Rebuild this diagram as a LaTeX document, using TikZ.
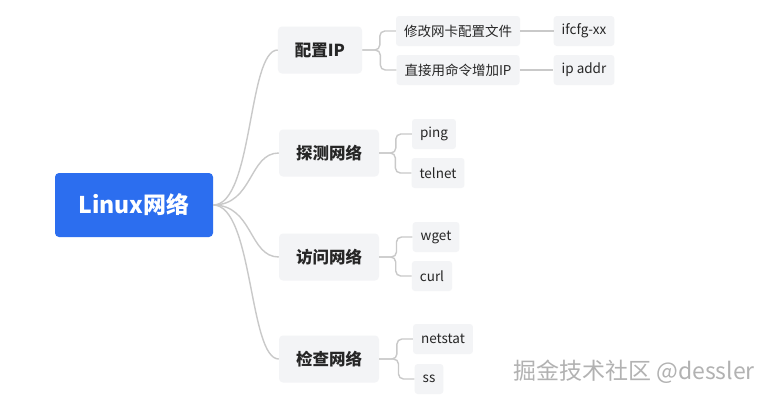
\documentclass[tikz,border=0pt]{standalone}
\usepackage{fontspec}
\setmainfont{Noto Sans CJK SC}
\definecolor{rootblue}{HTML}{2C6EEF}
\definecolor{boxgray}{HTML}{F3F4F6}
\definecolor{linkgray}{HTML}{C9C9C9}
\definecolor{textdark}{HTML}{262626}
\tikzset{
  rootbox/.style={fill=rootblue,text=white,rounded corners=4pt,minimum width=158pt,minimum height=64pt,font=\fontsize{23}{26}\selectfont\bfseries},
  topicbox/.style={fill=boxgray,text=textdark,rounded corners=4pt,inner xsep=17pt,minimum height=47pt,font=\fontsize{16.5}{19}\selectfont\bfseries},
  leafbox/.style={fill=boxgray,text=textdark,rounded corners=3pt,inner xsep=8pt,minimum height=30pt,font=\fontsize{13.5}{16}\selectfont},
  link/.style={draw=linkgray,line width=1.4pt,rounded corners=5pt},
}
\begin{document}
\begin{tikzpicture}[x=1pt,y=-1pt]
  \useasboundingbox[fill=white] (0,0) rectangle (784,400);
  \node[rootbox] (root) at (134,205) {Linux网络};
  \node[topicbox] (cfg) at (320,50) {配置IP};
  \node[topicbox] (probe) at (329,153) {探测网络};
  \node[topicbox] (visit) at (329,257) {访问网络};
  \node[topicbox] (check) at (329,359) {检查网络};
  \node[leafbox] (cfga) at (458,31) {修改网卡配置文件};
  \node[leafbox] (cfgb) at (458,70) {直接用命令增加IP};
  \node[leafbox] (ifcfg) at (584,31) {ifcfg-xx};
  \node[leafbox] (ipaddr) at (584,70) {ip addr};
  \node[leafbox] (ping) at (434,134) {ping};
  \node[leafbox] (telnet) at (438,173) {telnet};
  \node[leafbox] (wget) at (436,237) {wget};
  \node[leafbox] (curl) at (432,276) {curl};
  \node[leafbox] (netstat) at (443,339) {netstat};
  \node[leafbox] (ss) at (429,379) {ss};
  \foreach \t in {cfg,probe,visit,check} {
    \draw[link] (root.east) .. controls +(40,0) and +(-30,0) .. (\t.west);
  }
  \foreach \p/\c in {cfg/cfga,cfg/cfgb,probe/ping,probe/telnet,visit/wget,visit/curl,check/netstat,check/ss} {
    \draw[link] (\p.east) -| ([xshift=-16pt]\c.west) -- (\c.west);
  }
  \draw[link] (cfga.east) -- (ifcfg.west);
  \draw[link] (cfgb.east) -- (ipaddr.west);
  \node[text=gray!60,font=\fontsize{23}{26}\selectfont] (mark) at (634,372) {掘金技术社区 @dessler};
\end{tikzpicture}
\end{document}
